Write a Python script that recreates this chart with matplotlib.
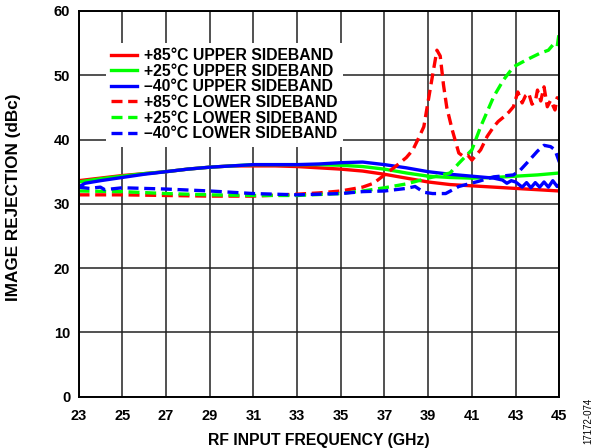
import matplotlib
matplotlib.use("Agg")
import matplotlib.pyplot as plt

plt.rcParams['font.family'] = ['Liberation Sans', 'DejaVu Sans']

# ---- data ----
red_up_f = [23, 24, 25, 26, 27, 28, 29, 30, 31, 32, 33, 34, 35, 36, 37, 38, 39, 40, 41, 42, 43, 44, 45]
red_up_v = [33.6, 34.0, 34.4, 34.7, 35.0, 35.4, 35.7, 35.9, 35.9, 35.9, 35.8, 35.6, 35.4, 35.1, 34.6, 34.0,
            33.4, 33.0, 32.8, 32.6, 32.4, 32.2, 32.0]

green_up_f = [23, 24, 25, 26, 27, 28, 29, 30, 31, 32, 33, 34, 35, 36, 37, 38, 39, 40, 41, 42, 43, 44, 45]
green_up_v = [33.4, 33.9, 34.3, 34.7, 35.0, 35.4, 35.7, 35.9, 36.1, 36.1, 36.1, 36.1, 36.0, 35.8, 35.4, 34.8,
              34.3, 34.1, 34.0, 34.1, 34.3, 34.5, 34.8]

blue_up_f = [23, 23.3, 24, 25, 26, 27, 28, 29, 30, 31, 32, 33, 34, 35, 36, 37, 38, 39, 40, 41, 42, 42.4,
             42.6, 42.8, 43.0, 43.3, 43.5, 43.7, 43.9, 44.1, 44.3, 44.5, 44.7, 44.9, 45]
blue_up_v = [32.6, 33.2, 33.6, 34.1, 34.6, 35.0, 35.4, 35.7, 35.9, 36.1, 36.1, 36.1, 36.2, 36.4, 36.5, 36.1,
             35.6, 35.0, 34.6, 34.3, 34.0, 33.7, 33.2, 33.6, 33.4, 32.6, 33.3, 32.5, 33.3, 32.6, 33.4, 32.6,
             33.6, 32.7, 33.0]

red_lo_f = [23, 25, 27, 29, 31, 33, 34, 35, 36, 36.5, 37, 37.5, 38, 38.3, 38.6, 38.8, 39.0, 39.2, 39.4,
            39.55, 39.7, 39.85, 40.1, 40.4, 40.6, 40.8, 41.0, 41.4, 41.7, 42.0, 42.2, 42.45, 42.7, 42.9,
            43.1, 43.3, 43.45, 43.6, 43.75, 43.9, 44.0, 44.15, 44.3, 44.45, 44.6, 44.8, 44.9, 45]
red_lo_v = [31.4, 31.4, 31.3, 31.2, 31.2, 31.5, 31.7, 32.0, 32.6, 33.2, 34.5, 35.8, 37.2, 38.4, 40.5, 42.0,
            46.0, 50.0, 53.9, 53.0, 48.5, 45.0, 41.5, 37.9, 37.4, 37.6, 36.8, 38.4, 40.5, 42.0, 42.8, 43.5,
            44.3, 45.1, 47.4, 45.7, 46.8, 47.2, 45.5, 45.9, 47.7, 46.0, 48.2, 45.1, 46.1, 44.6, 46.5, 46.4]

green_lo_f = [23, 25, 27, 29, 31, 33, 35, 36, 37, 38, 39, 40, 40.4, 41.0, 41.4, 42.0, 42.45, 42.9, 43.5,
              44.1, 44.5, 44.7, 44.9, 45]
green_lo_v = [32.0, 31.9, 31.6, 31.4, 31.3, 31.3, 31.6, 32.0, 32.5, 33.1, 34.0, 34.8, 36.3, 38.4, 42.0,
              46.7, 49.3, 51.3, 52.4, 53.4, 53.9, 54.7, 54.4, 56.8]

blue_lo_f = [23, 23.5, 24, 24.2, 25, 27, 29, 31, 33, 35, 36, 37, 38, 38.4, 38.8, 39.2, 39.8, 40.4, 41.3,
             42.0, 42.9, 43.2, 43.5, 44.0, 44.3, 44.6, 44.8, 45]
blue_lo_v = [32.6, 32.4, 32.6, 32.2, 32.5, 32.3, 32.0, 31.6, 31.4, 31.6, 31.9, 32.0, 32.4, 32.7, 31.8,
             31.6, 31.6, 32.7, 33.5, 34.2, 34.5, 35.2, 36.3, 38.2, 39.1, 38.9, 38.4, 36.5]

labels = ["+85°C UPPER SIDEBAND", "+25°C UPPER SIDEBAND", "–40°C UPPER SIDEBAND",
          "+85°C LOWER SIDEBAND", "+25°C LOWER SIDEBAND", "–40°C LOWER SIDEBAND"]
x_ticks = [23, 25, 27, 29, 31, 33, 35, 37, 39, 41, 43, 45]
y_ticks = [0, 10, 20, 30, 40, 50, 60]

RED, GREEN, BLUE = "#FF0000", "#00FF00", "#0000FF"

fig = plt.figure(figsize=(5.97, 4.48), dpi=100)
ax = fig.add_axes([0.1315, 0.1145, 0.8054, 0.861])

lw = 2.4
dash = (3.3, 1.7)
series = [
    (red_up_f, red_up_v, RED, '-'),
    (green_up_f, green_up_v, GREEN, '-'),
    (blue_up_f, blue_up_v, BLUE, '-'),
    (red_lo_f, red_lo_v, RED, '--'),
    (green_lo_f, green_lo_v, GREEN, '--'),
    (blue_lo_f, blue_lo_v, BLUE, '--'),
]
handles = []
for (f, v, c, ls), lab in zip(series, labels):
    if ls == '--':
        h, = ax.plot(f, v, color=c, lw=lw, dashes=dash, label=lab)
    else:
        h, = ax.plot(f, v, color=c, lw=lw, label=lab)
    handles.append(h)

ax.set_xlim(23, 45)
ax.set_ylim(0, 60)
ax.set_xticks(x_ticks)
ax.set_yticks(y_ticks)
ax.grid(True, color="#222222", lw=1.1)
ax.set_axisbelow(True)
ax.tick_params(length=0, labelsize=10.5)
ax.tick_params(axis='y', pad=6)
ax.tick_params(axis='x', pad=9)
for lab in ax.get_xticklabels() + ax.get_yticklabels():
    lab.set_fontweight('bold')
for s in ax.spines.values():
    s.set_linewidth(1.4)
    s.set_color('black')

ax.set_xlabel("RF INPUT FREQUENCY (GHz)", fontsize=11.3, fontweight='bold', labelpad=7)
ax.set_ylabel("IMAGE REJECTION (dBc)", fontsize=12.3, fontweight='bold')
ax.yaxis.set_label_coords(-0.12, 0.516)

leg = ax.legend(handles=handles, loc='upper left', bbox_to_anchor=(0.057, 0.918),
                frameon=True, facecolor='white', edgecolor='none', framealpha=1.0,
                fancybox=False, prop={'weight': 'bold', 'size': 11.3},
                handlelength=1.6, handletextpad=0.5, labelspacing=0.04, borderpad=0.35,
                borderaxespad=0)

fig.text(0.985, 0.06, "17172-074", rotation=90, fontsize=7, ha='center', va='center')

fig.savefig("out.png", dpi=100)
